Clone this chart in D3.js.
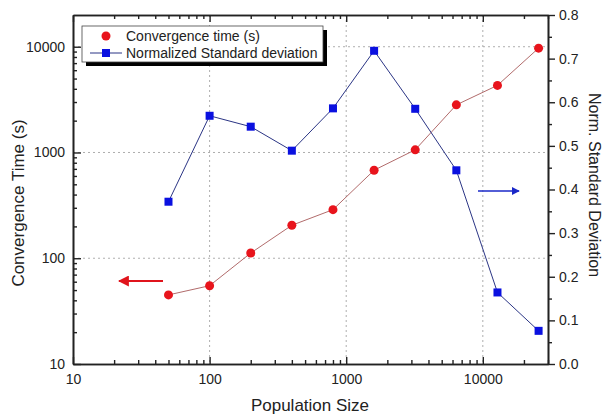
<!DOCTYPE html>
<html>
<head>
<meta charset="utf-8">
<script src="https://cdn.jsdelivr.net/npm/d3@7"></script>
<style>
  body { margin: 0; background: #fff; }
  text { font-family: "Liberation Sans", Arial, sans-serif; fill: #222; }
</style>
</head>
<body>
<div id="chart"></div>
<script>
// Data
const populationSizes = [50, 100, 200, 400, 800, 1600, 3200, 6400, 12800, 25600];
const convergenceTimes = [45, 55, 112, 205, 288, 680, 1060, 2820, 4310, 9700];
const normStdDev = [0.372, 0.569, 0.544, 0.489, 0.586, 0.718, 0.585, 0.444, 0.164, 0.076];
const xTickValues = [10, 100, 1000, 10000];
const yTickValues = [10, 100, 1000, 10000];
const y2TickValues = [0, 0.1, 0.2, 0.3, 0.4, 0.5, 0.6, 0.7, 0.8];

const width = 605, height = 419;
const margin = { top: 15, right: 57, bottom: 55, left: 73 };
const innerW = width - margin.left - margin.right;
const innerH = height - margin.top - margin.bottom;

const svg = d3.select("#chart")
              .append("svg")
              .attr("width", width)
              .attr("height", height);

const g = svg.append("g")
             .attr("transform", `translate(${margin.left},${margin.top})`);

// Scales
const x = d3.scaleLog().domain([10, 30000]).range([0, innerW]);
const y = d3.scaleLog().domain([10, Math.pow(10, 4.3)]).range([innerH, 0]);
const y2 = d3.scaleLinear().domain([0, 0.8]).range([innerH, 0]);

// minor tick positions for log axes
function logMinor(domain) {
    const out = [];
    for (let p = 1; p <= 4; p++) {
        for (let m = 1; m < 10; m++) {
            const v = m * Math.pow(10, p);
            if (v >= domain[0] && v <= domain[1]) out.push(v);
        }
    }
    return out;
}
const xMinor = logMinor(x.domain()).filter(v => !xTickValues.includes(v));
const yMinor = logMinor(y.domain()).filter(v => !yTickValues.includes(v));

// Grid
g.selectAll(".xgrid")
 .data([100, 1000, 10000])
 .enter().append("line")
 .attr("x1", d => x(d)).attr("x2", d => x(d))
 .attr("y1", 0).attr("y2", innerH)
 .attr("stroke", "#999").attr("stroke-width", 0.8)
 .attr("stroke-dasharray", "2,3");

g.selectAll(".ygrid")
 .data([100, 1000, 10000])
 .enter().append("line")
 .attr("x1", 0).attr("x2", innerW)
 .attr("y1", d => y(d)).attr("y2", d => y(d))
 .attr("stroke", "#999").attr("stroke-width", 0.8)
 .attr("stroke-dasharray", "2,3");

// Axes
const fmt = d3.format("d");
const xAxis = g.append("g")
    .attr("transform", `translate(0,${innerH})`)
    .call(d3.axisBottom(x).tickValues(xTickValues).tickFormat(fmt).tickSizeInner(-7).tickSizeOuter(0).tickPadding(10));
const xAxisMinor = g.append("g")
    .attr("transform", `translate(0,${innerH})`)
    .call(d3.axisBottom(x).tickValues(xMinor).tickFormat("").tickSizeInner(-4).tickSizeOuter(0));
const xTop = g.append("g")
    .call(d3.axisTop(x).tickValues(xTickValues).tickFormat("").tickSizeInner(-7).tickSizeOuter(0));
const xTopMinor = g.append("g")
    .call(d3.axisTop(x).tickValues(xMinor).tickFormat("").tickSizeInner(-4).tickSizeOuter(0));

const yAxis = g.append("g")
    .call(d3.axisLeft(y).tickValues(yTickValues).tickFormat(fmt).tickSizeInner(-8).tickSizeOuter(0).tickPadding(8));
const yAxisMinor = g.append("g")
    .call(d3.axisLeft(y).tickValues(yMinor).tickFormat("").tickSizeInner(-4).tickSizeOuter(0));

const y2Axis = g.append("g")
    .attr("transform", `translate(${innerW},0)`)
    .call(d3.axisRight(y2).tickValues(y2TickValues).tickFormat(d3.format(".1f")).tickSizeInner(7).tickSizeOuter(0).tickPadding(4));
const y2Minor = g.append("g")
    .attr("transform", `translate(${innerW},0)`)
    .call(d3.axisRight(y2).tickValues(d3.range(0.05, 0.8, 0.1)).tickFormat("").tickSizeInner(4).tickSizeOuter(0));

[xAxis, xAxisMinor, xTop, xTopMinor, yAxis, yAxisMinor, y2Axis, y2Minor].forEach(a => {
    a.selectAll(".domain").attr("stroke", "#222").attr("stroke-width", 1.6);
    a.selectAll(".tick line").attr("stroke", "#222").attr("stroke-width", 1.4);
    a.selectAll("text").style("font-size", "14px").attr("fill", "#222");
});

// Convergence time series (red)
const redLine = d3.line()
    .x((d, i) => x(populationSizes[i]))
    .y(d => y(d));
g.append("path")
 .datum(convergenceTimes)
 .attr("d", redLine)
 .attr("fill", "none")
 .attr("stroke", "#a85a5a")
 .attr("stroke-width", 0.9);

g.selectAll(".dot")
 .data(convergenceTimes)
 .enter().append("circle")
 .attr("cx", (d, i) => x(populationSizes[i]))
 .attr("cy", d => y(d))
 .attr("r", 4.5)
 .attr("fill", "#e8141c");

// Normalized std series (blue)
const blueLine = d3.line()
    .x((d, i) => x(populationSizes[i]))
    .y(d => y2(d));
g.append("path")
 .datum(normStdDev)
 .attr("d", blueLine)
 .attr("fill", "none")
 .attr("stroke", "#2b3585")
 .attr("stroke-width", 1);

g.selectAll(".sq")
 .data(normStdDev)
 .enter().append("rect")
 .attr("x", (d, i) => x(populationSizes[i]) - 4)
 .attr("y", d => y2(d) - 4)
 .attr("width", 8)
 .attr("height", 8)
 .attr("fill", "#0a10e0");

// Arrows
svg.append("defs").selectAll("marker")
   .data([["arrRed", "#e0141c"], ["arrBlue", "#1a28c8"]])
   .enter().append("marker")
   .attr("id", d => d[0])
   .attr("viewBox", "0 0 10 10")
   .attr("refX", 9).attr("refY", 5)
   .attr("markerWidth", 5).attr("markerHeight", 5)
   .attr("orient", "auto")
   .append("path")
   .attr("d", "M0,0 L10,5 L0,10 z")
   .attr("fill", d => d[1]);

svg.append("line")
   .attr("x1", 163).attr("y1", 281).attr("x2", 119).attr("y2", 281)
   .attr("stroke", "#e0141c").attr("stroke-width", 2.2)
   .attr("marker-end", "url(#arrRed)");
svg.append("line")
   .attr("x1", 478).attr("y1", 191).attr("x2", 519).attr("y2", 191)
   .attr("stroke", "#1a28c8").attr("stroke-width", 1.6)
   .attr("marker-end", "url(#arrBlue)");

// Legend
const legend = svg.append("g").attr("transform", "translate(82,26)");
legend.append("rect")
      .attr("x", 4).attr("y", 4).attr("width", 241).attr("height", 36)
      .attr("fill", "#000");
legend.append("rect")
      .attr("x", 0).attr("y", 0).attr("width", 241).attr("height", 36)
      .attr("fill", "#fff").attr("stroke", "#444").attr("stroke-width", 0.8);
legend.append("circle")
      .attr("cx", 24).attr("cy", 10).attr("r", 4.5).attr("fill", "#e8141c");
legend.append("text")
      .attr("x", 44).attr("y", 15).style("font-size", "14px")
      .text("Convergence time (s)");
legend.append("line")
      .attr("x1", 8).attr("x2", 40).attr("y1", 27).attr("y2", 27)
      .attr("stroke", "#2b3585").attr("stroke-width", 1);
legend.append("rect")
      .attr("x", 20).attr("y", 23).attr("width", 8).attr("height", 8)
      .attr("fill", "#0a10e0");
legend.append("text")
      .attr("x", 44).attr("y", 32).style("font-size", "14px")
      .text("Normalized Standard deviation");

// Axis titles
svg.append("text")
   .attr("x", 310).attr("y", 411)
   .attr("text-anchor", "middle")
   .style("font-size", "17px")
   .text("Population Size");
svg.append("text")
   .attr("transform", "translate(24,203) rotate(-90)")
   .attr("text-anchor", "middle")
   .style("font-size", "17px")
   .text("Convergence Time (s)");
svg.append("text")
   .attr("transform", "translate(589,185) rotate(90)")
   .attr("text-anchor", "middle")
   .style("font-size", "16px")
   .text("Norm. Standard Deviation");
</script>
</body>
</html>
